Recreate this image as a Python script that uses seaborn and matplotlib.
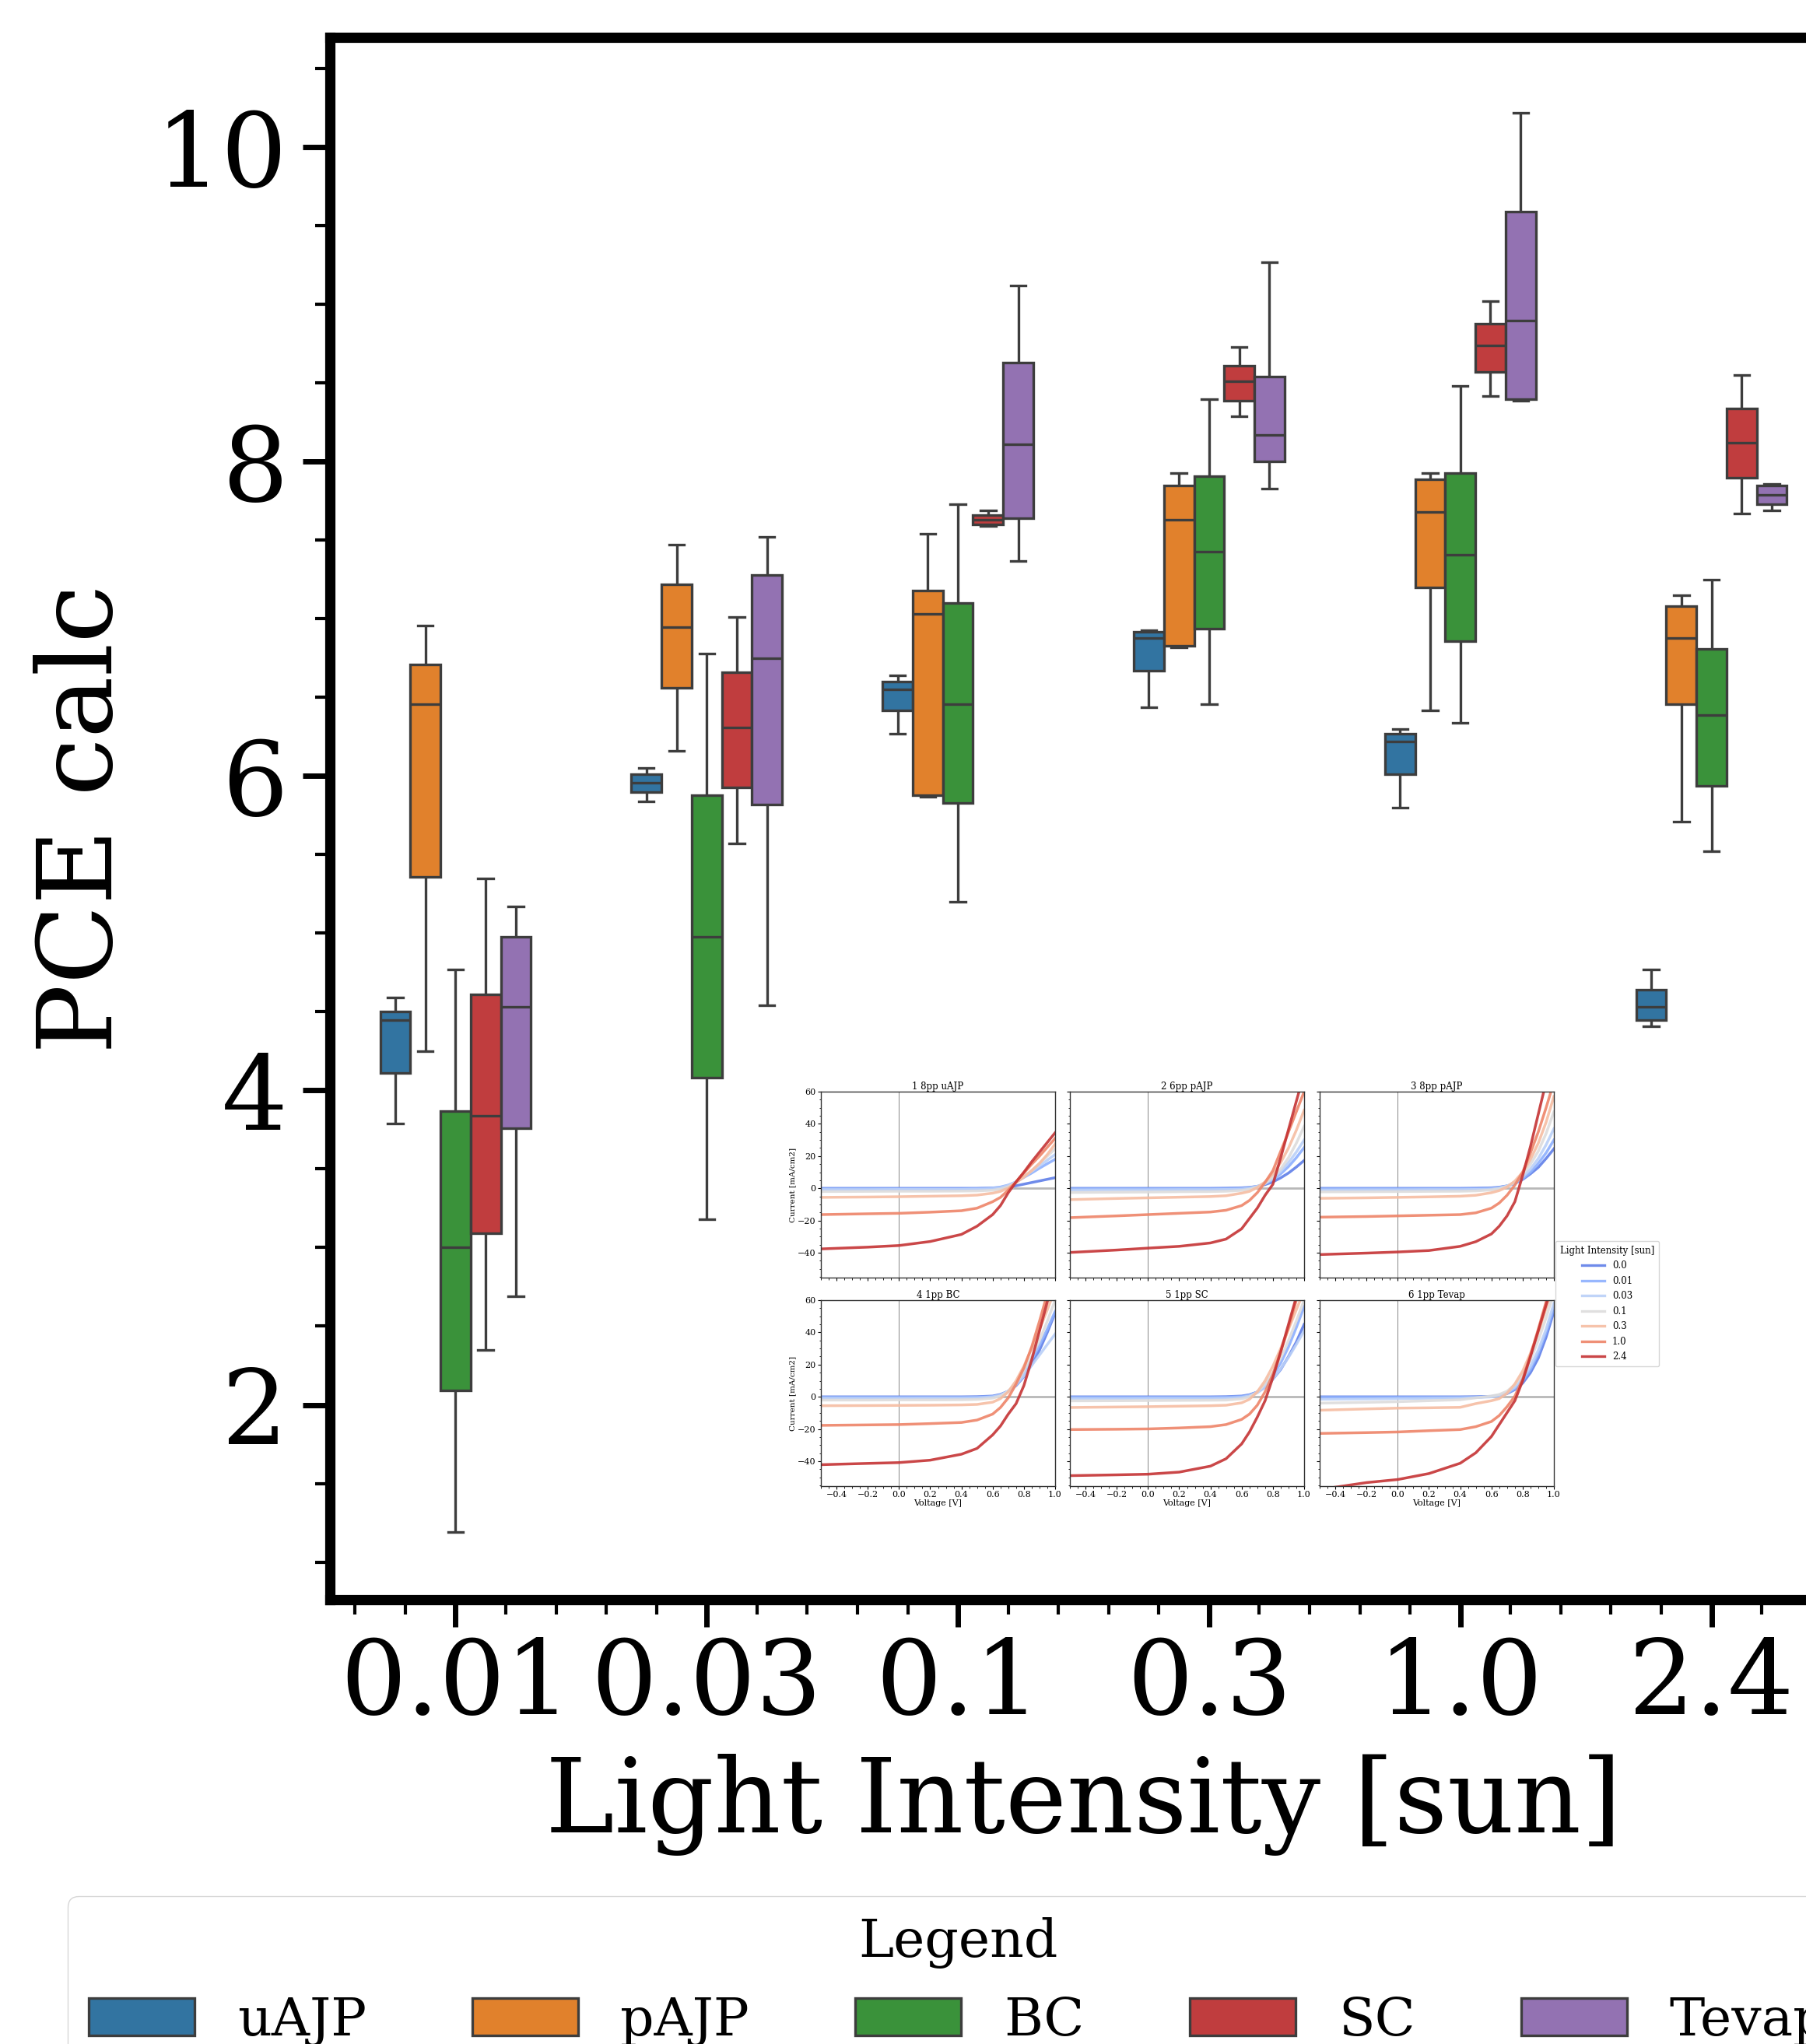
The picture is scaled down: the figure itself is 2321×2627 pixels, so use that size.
import numpy as np
import pandas as pd
import seaborn as sns
import matplotlib.pyplot as plt
from matplotlib.ticker import MultipleLocator

# ---- box plot data: [low whisker, Q1, median, Q3, high whisker] per intensity
intensities = ['0.01', '0.03', '0.1', '0.3', '1.0', '2.4']
processes = ['uAJP', 'pAJP', 'BC', 'SC', 'Tevap']

uajp = [[3.79, 4.11, 4.45, 4.50, 4.59], [5.84, 5.90, 5.96, 6.01, 6.05],
        [6.27, 6.42, 6.55, 6.60, 6.64], [6.44, 6.67, 6.88, 6.92, 6.93],
        [5.80, 6.01, 6.22, 6.27, 6.30], [4.41, 4.45, 4.53, 4.64, 4.77]]
pajp = [[4.25, 5.36, 6.46, 6.71, 6.96], [6.16, 6.56, 6.95, 7.22, 7.47],
        [5.87, 5.88, 7.03, 7.18, 7.54], [6.82, 6.83, 7.63, 7.85, 7.93],
        [6.42, 7.20, 7.68, 7.89, 7.93], [5.71, 6.46, 6.88, 7.08, 7.15]]
bc = [[1.19, 2.09, 3.00, 3.87, 4.77], [3.18, 4.08, 4.98, 5.88, 6.78],
      [5.20, 5.83, 6.46, 7.10, 7.73], [6.46, 6.94, 7.43, 7.91, 8.40],
      [6.34, 6.86, 7.41, 7.93, 8.48], [5.52, 5.94, 6.39, 6.81, 7.25]]
sc = [[2.35, 3.09, 3.84, 4.61, 5.35], [5.57, 5.93, 6.31, 6.66, 7.01],
      [7.59, 7.60, 7.63, 7.66, 7.69], [8.29, 8.39, 8.51, 8.61, 8.73],
      [8.42, 8.57, 8.74, 8.88, 9.02], [7.67, 7.90, 8.12, 8.34, 8.55]]
tevap = [[2.69, 3.76, 4.53, 4.98, 5.17], [4.54, 5.82, 6.75, 7.28, 7.52],
         [7.37, 7.64, 8.11, 8.63, 9.12], [7.83, 8.00, 8.17, 8.54, 9.27],
         [8.39, 8.40, 8.90, 9.59, 10.22], [7.69, 7.73, 7.79, 7.85, 7.86]]

# ---- inset J-V curves
voltage = [-0.5, -0.2, 0.0, 0.2, 0.4, 0.5, 0.6, 0.65, 0.7, 0.75, 0.8, 0.85, 0.9, 0.95, 1.0]
sun_levels = ['0.0', '0.01', '0.03', '0.1', '0.3', '1.0', '2.4']
panel_titles = ['1 8pp uAJP', '2 6pp pAJP', '3 8pp pAJP', '4 1pp BC', '5 1pp SC', '6 1pp Tevap']

jv_1 = [[0, 0, 0, 0, 0, 0, 0.2, 0.4, 0.8, 1.6, 2.6, 3.6, 4.6, 5.6, 6.6],
        [-0.3, -0.3, -0.3, -0.3, -0.3, -0.2, 0.2, 0.8, 2.0, 4.0, 6.8, 9.5, 12.5, 15.3, 18.0],
        [-0.8, -0.8, -0.7, -0.7, -0.7, -0.6, -0.2, 0.4, 1.8, 4.0, 7.2, 10.5, 14.0, 17.5, 21.0],
        [-2.0, -1.9, -1.8, -1.8, -1.7, -1.6, -1.2, -0.5, 1.0, 3.8, 7.3, 11.0, 15.5, 20.0, 24.5],
        [-5.6, -5.4, -5.2, -4.9, -4.6, -4.2, -3.0, -1.9, 0.2, 3.5, 7.0, 11.0, 15.5, 21.0, 27.5],
        [-16.3, -15.8, -15.5, -14.8, -13.9, -12.3, -8.3, -5.6, -1.1, 4.0, 9.5, 15.0, 20.0, 25.5, 31.0],
        [-37.6, -36.5, -35.5, -33.0, -28.6, -23.5, -16.3, -10.7, -2.7, 4.0, 10.0, 16.5, 22.5, 28.5, 34.5]]
jv_2 = [[0, 0, 0, 0, 0, 0.1, 0.3, 0.6, 1.2, 2.3, 4.0, 6.5, 9.5, 13.2, 17.3],
        [-0.3, -0.3, -0.3, -0.3, -0.3, -0.2, 0.0, 0.4, 1.2, 2.8, 5.3, 9.0, 13.5, 19.0, 25.3],
        [-1.0, -0.9, -0.9, -0.8, -0.8, -0.7, -0.4, 0.1, 1.2, 3.0, 6.0, 10.5, 16.0, 22.5, 30.0],
        [-2.6, -2.4, -2.3, -2.1, -2.0, -1.8, -1.3, -0.6, 0.8, 3.2, 7.0, 12.0, 19.0, 28.0, 38.5],
        [-7.0, -6.3, -5.9, -5.5, -5.1, -4.6, -3.0, -1.9, 0.5, 4.0, 9.0, 16.0, 25.0, 36.0, 48.5],
        [-18.2, -17.1, -16.3, -15.5, -14.7, -13.6, -10.7, -7.5, -2.7, 3.7, 11.0, 23.0, 35.0, 47.5, 60.0],
        [-39.8, -38.3, -37.1, -36.0, -33.9, -31.5, -25.1, -18.7, -12.3, -4.3, 2.5, 19.0, 36.5, 54.0, 71.0]]
jv_3 = [[0, 0, 0, 0, 0, 0.1, 0.3, 0.7, 1.5, 3.0, 5.5, 9.0, 13.0, 18.5, 24.5],
        [-0.3, -0.3, -0.3, -0.3, -0.3, -0.2, 0.0, 0.5, 1.4, 3.0, 6.0, 10.0, 15.5, 22.0, 30.0],
        [-1.0, -0.9, -0.9, -0.8, -0.8, -0.7, -0.4, 0.2, 1.4, 3.5, 7.0, 12.0, 18.5, 27.0, 37.0],
        [-2.2, -2.1, -2.0, -1.9, -1.8, -1.6, -1.0, -0.3, 1.2, 4.0, 8.5, 15.0, 23.0, 34.0, 47.5],
        [-6.2, -5.9, -5.6, -5.3, -4.9, -4.3, -2.7, -1.4, 0.8, 4.5, 10.0, 18.0, 28.0, 41.0, 57.0],
        [-17.9, -17.5, -17.1, -16.7, -16.3, -15.2, -12.3, -9.1, -4.3, 2.0, 10.0, 22.0, 35.0, 50.0, 66.0],
        [-41.1, -40.2, -39.5, -38.6, -36.0, -33.1, -28.3, -23.5, -17.1, -8.3, 8.0, 26.0, 46.0, 66.0, 86.0]]
jv_4 = [[0, 0, 0, 0, 0, 0.1, 0.5, 1.5, 3.5, 7.0, 12.5, 20.0, 29.0, 40.0, 52.0],
        [-0.3, -0.3, -0.3, -0.3, -0.3, -0.2, 0.2, 1.2, 3.5, 8.0, 15.0, 23.0, 32.0, 42.0, 53.0],
        [-0.8, -0.8, -0.8, -0.7, -0.7, -0.6, 0.0, 1.0, 3.5, 7.5, 13.0, 19.5, 26.0, 32.5, 39.0],
        [-2.0, -2.0, -1.9, -1.9, -1.8, -1.6, -0.8, 0.5, 3.5, 8.5, 16.0, 25.0, 35.0, 47.0, 60.0],
        [-5.5, -5.4, -5.3, -5.2, -5.0, -4.7, -3.3, -1.1, 3.1, 10.0, 19.0, 30.0, 42.0, 54.0, 67.0],
        [-17.7, -17.4, -17.2, -16.6, -15.9, -14.4, -10.7, -6.6, -0.6, 8.0, 18.0, 31.0, 47.0, 64.0, 80.0],
        [-42.1, -41.3, -40.8, -39.3, -35.6, -32.0, -23.6, -18.1, -10.7, -4.2, 7.0, 23.0, 41.0, 59.0, 77.0]]
jv_5 = [[0, 0, 0, 0, 0, 0.1, 0.5, 1.3, 3.0, 6.0, 11.0, 17.0, 25.0, 34.0, 45.0],
        [-0.3, -0.3, -0.3, -0.3, -0.3, -0.2, 0.2, 1.0, 3.0, 7.0, 13.0, 21.0, 31.0, 43.0, 56.0],
        [-1.0, -1.0, -0.9, -0.9, -0.9, -0.8, -0.3, 0.6, 2.5, 6.0, 11.0, 17.5, 24.5, 32.5, 41.0],
        [-2.5, -2.4, -2.3, -2.2, -2.1, -2.0, -1.2, 0.0, 3.0, 8.0, 15.0, 24.0, 35.0, 47.0, 60.0],
        [-6.6, -6.3, -6.1, -5.8, -5.5, -5.2, -3.7, -1.5, 3.1, 10.0, 19.0, 30.0, 42.0, 54.0, 66.0],
        [-20.3, -20.1, -19.9, -19.3, -18.5, -17.2, -14.0, -10.7, -5.2, 3.1, 14.0, 28.0, 43.0, 60.0, 77.0],
        [-48.9, -48.4, -48.0, -46.7, -43.0, -38.4, -29.2, -21.8, -12.6, -2.4, 12.0, 28.0, 45.0, 62.0, 78.0]]
jv_6 = [[0, 0, 0, 0, 0, 0.1, 0.3, 0.8, 2.0, 4.5, 8.5, 15.0, 24.0, 37.0, 53.0],
        [-0.3, -0.3, -0.3, -0.3, -0.3, -0.2, 0.2, 0.8, 2.2, 5.0, 10.0, 17.0, 27.0, 40.0, 55.0],
        [-1.5, -1.3, -1.1, -0.9, -0.7, -0.5, 0.0, 0.8, 2.5, 6.0, 11.5, 19.0, 29.0, 42.0, 58.0],
        [-3.9, -3.4, -3.0, -2.4, -1.8, -0.6, 0.5, 1.5, 3.5, 7.5, 14.0, 23.0, 35.0, 49.0, 65.0],
        [-8.3, -7.5, -7.0, -6.8, -6.5, -4.2, -2.4, -1.1, 2.2, 8.0, 16.0, 27.0, 40.0, 55.0, 70.0],
        [-22.7, -22.2, -21.8, -21.0, -20.3, -18.5, -15.3, -11.6, -6.1, 0.4, 11.0, 26.0, 42.0, 59.0, 76.0],
        [-57.5, -53.2, -51.3, -47.6, -41.2, -34.7, -24.6, -17.2, -9.8, -2.4, 10.0, 25.0, 41.0, 57.0, 73.0]]
panels = [jv_1, jv_2, jv_3, jv_4, jv_5, jv_6]

plt.rcParams['font.family'] = 'DejaVu Serif'

W, H = 2321, 2627
fig = plt.figure(figsize=(W / 100, H / 100), dpi=100)
fig.patch.set_facecolor('white')

# main axes (right edge runs past the canvas, like the cropped original)
ax = fig.add_axes([424 / W, 1 - 2056 / H, 1937 / W, (2056 - 48) / H])

rows = []
for proc, stats in zip(processes, [uajp, pajp, bc, sc, tevap]):
    for lvl, vals in zip(intensities, stats):
        for v in vals:
            rows.append((lvl, proc, v))
df = pd.DataFrame(rows, columns=['Light Intensity [sun]', 'Process', 'PCE calc'])

sns.boxplot(data=df, x='Light Intensity [sun]', y='PCE calc', hue='Process',
            order=intensities, hue_order=processes, width=0.6, whis=(0, 100),
            linewidth=2.4, ax=ax)

ax.set_xlim(-0.5, 5.5)
ax.set_ylim(0.76, 10.70)
ax.yaxis.set_major_locator(MultipleLocator(2))
ax.yaxis.set_minor_locator(MultipleLocator(0.5))
ax.xaxis.set_minor_locator(MultipleLocator(0.2))
for sp in ax.spines.values():
    sp.set_linewidth(9.5)
ax.tick_params(which='major', length=25, width=5, labelsize=96, pad=8)
ax.tick_params(axis='y', which='major', pad=14)
ax.tick_params(which='minor', length=14, width=3)
ax.set_xlabel('Light Intensity [sun]', fontsize=96, labelpad=17)
ax.set_ylabel('PCE calc', fontsize=96, labelpad=20)

handles, labels = ax.get_legend_handles_labels()
ax.get_legend().remove()
fig.legend(handles, labels, title='Legend', ncol=5, loc='upper left',
           bbox_to_anchor=(87 / W, 1 - 2437 / H), borderaxespad=0,
           fontsize=49, title_fontsize=49)

# inset: J-V curves for each sample
cmap = plt.get_cmap('coolwarm')
pal = [cmap(p) for p in [0.12, 0.25, 0.38, 0.5, 0.65, 0.8, 0.95]]
inset_left = [1055, 1375, 1696]
inset_top = [1403, 1671]
for k, (title, curves) in enumerate(zip(panel_titles, panels)):
    r, c = divmod(k, 3)
    iax = fig.add_axes([inset_left[c] / W, 1 - (inset_top[r] + 239) / H, 301 / W, 239 / H])
    d = pd.DataFrame({
        'Voltage [V]': np.tile(voltage, len(sun_levels)),
        'Current [mA/cm2]': np.concatenate(curves),
        'Light Intensity [sun]': np.repeat(sun_levels, len(voltage)),
    })
    iax.axhline(0, color='0.65', lw=2, alpha=0.8, zorder=0)
    iax.axvline(0, color='0.45', lw=0.6, zorder=0)
    sns.lineplot(data=d, x='Voltage [V]', y='Current [mA/cm2]', hue='Light Intensity [sun]',
                 hue_order=sun_levels, palette=pal, linewidth=2.5, alpha=0.9,
                 errorbar=None, legend=(k == 2), ax=iax)
    iax.set_xlim(-0.5, 1.0)
    iax.set_ylim(-55.4, 60)
    iax.xaxis.set_major_locator(MultipleLocator(0.2))
    iax.xaxis.set_minor_locator(MultipleLocator(0.05))
    iax.yaxis.set_major_locator(MultipleLocator(20))
    iax.yaxis.set_minor_locator(MultipleLocator(5))
    iax.tick_params(which='major', length=3, width=0.8, labelsize=8, pad=1.5)
    iax.tick_params(which='minor', length=1.8, width=0.6)
    for sp in iax.spines.values():
        sp.set_linewidth(1.0)
        sp.set_color('0.2')
    iax.set_title(title, fontsize=8.5, pad=1.5)
    if c == 0:
        iax.set_ylabel('Current [mA/cm2]', fontsize=7.5, labelpad=1)
    else:
        iax.set_ylabel('')
        iax.tick_params(labelleft=False)
    if r == 1:
        iax.set_xlabel('Voltage [V]', fontsize=8, labelpad=0.5)
    else:
        iax.set_xlabel('')
        iax.tick_params(labelbottom=False)
    if k == 2:
        leg = iax.legend(title='Light Intensity [sun]', loc='upper left',
                         bbox_to_anchor=(1999 / W, 1 - 1595 / H), bbox_transform=fig.transFigure,
                         borderaxespad=0, fontsize=8.5, title_fontsize=8.5, handlelength=2.5,
                         borderpad=0.5, labelspacing=0.55)
        for ln in leg.get_lines():
            ln.set_linewidth(2.4)

fig.savefig('out.png', dpi=100, facecolor='white')
